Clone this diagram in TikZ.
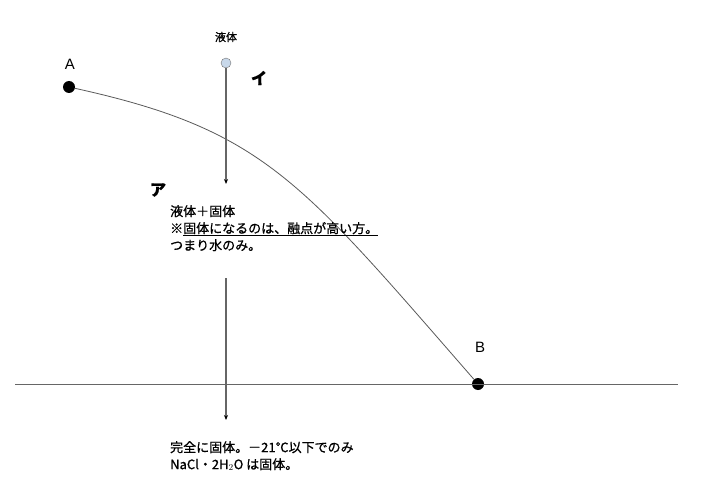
\documentclass[tikz,border=0pt]{standalone}
\usepackage{fontspec}
\setmainfont{Noto Sans CJK JP}[FakeBold=0.8]
\newfontfamily\latinsf{Liberation Sans}
\usetikzlibrary{arrows.meta}
\definecolor{liqblue}{RGB}{200,216,234}

\begin{document}
\begin{tikzpicture}[x=1pt,y=-1pt,
  dot/.style={circle,fill=black,inner sep=0pt,minimum size=12pt},
  ptlabel/.style={font=\latinsf\fontsize{15}{15}\selectfont},
  jtext/.style={font=\fontsize{13}{17}\selectfont,align=left,inner sep=0pt},
  kana/.style={font=\fontsize{16}{16}\selectfont\bfseries,inner sep=0pt},
  axis/.style={draw=black!60,line width=0.9pt},
  fall/.style={draw=black!60,line width=1.1pt,-{Stealth[length=5pt,width=4pt,black]}}]
\useasboundingbox (0,0) rectangle (707,500);

% melting curve A -> B and the 0 line
\node[dot] (A) at (69,87) {};
\node[dot] (B) at (478,384) {};
\coordinate (left) at (15,384);
\coordinate (right) at (678,384);
\draw[axis] (left)--(right);
\draw[black!65,line width=0.8pt] (A) .. controls (264,130) and (300,180) .. (B);
\node[ptlabel] (labA) at (70,64) {A};
\node[ptlabel] (labB) at (480,347) {B};

% cooling from the liquid
\node[circle,draw=black!55,fill=liqblue,inner sep=0pt,minimum size=10pt] (liq) at (226,63) {};
\node[font=\fontsize{11}{11}\selectfont] (liqlab) at (226,37) {液体};
\coordinate (stop1) at (226,184);
\draw[fall] (liq)--(stop1);
\coordinate (go2) at (226,278);
\coordinate (stop2) at (226,420);
\draw[fall] (go2)--(stop2);

\node[kana] (i) at (259,78) {イ};
\node[kana] (a) at (158,190) {ア};
\node[jtext,anchor=north west] (mix) at (170,205)
  {液体＋固体\\※\underline{固体になるのは、融点が高い方。}\\つまり水のみ。};
\node[jtext,anchor=north west] (solid) at (170,441)
  {完全に固体。－21℃以下でのみ\\NaCl・2H$_2$O は固体。};
\end{tikzpicture}
\end{document}
